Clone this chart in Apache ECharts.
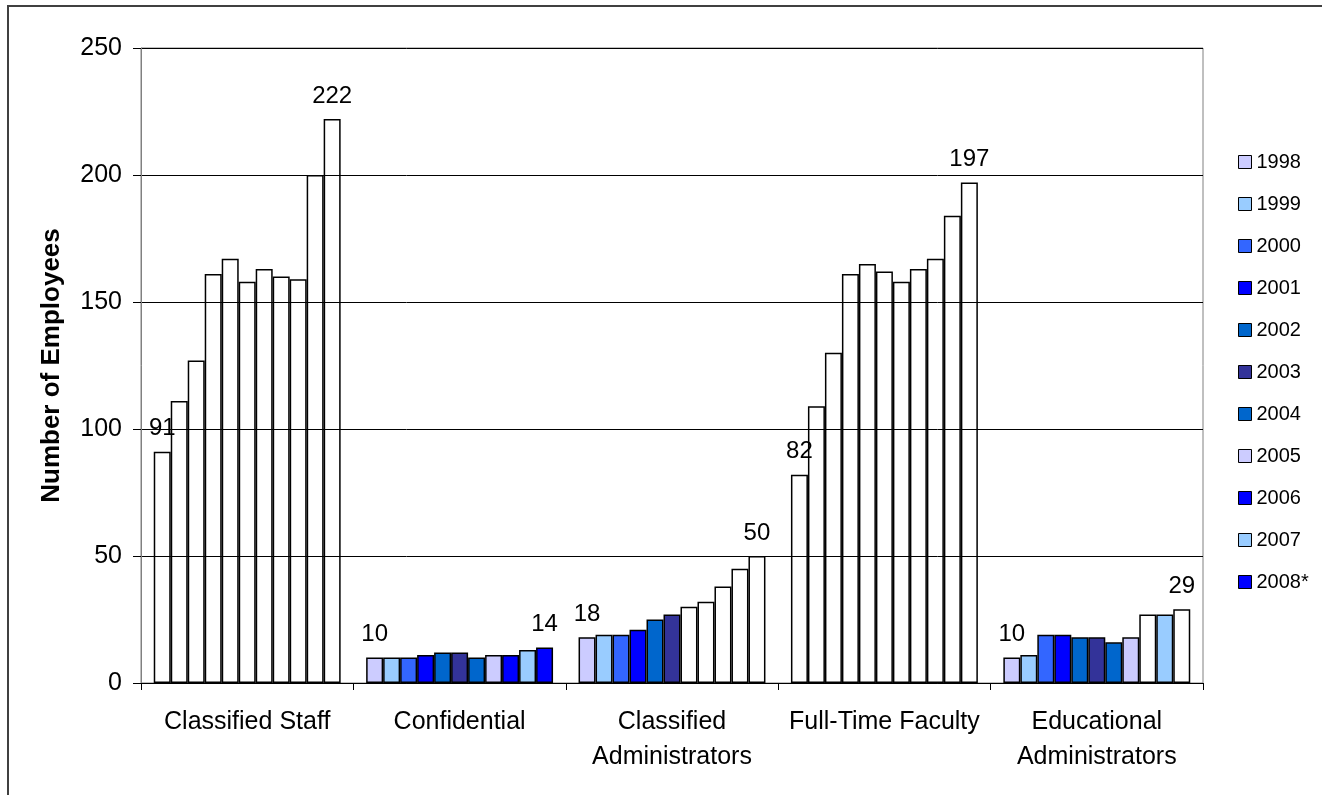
<!DOCTYPE html>
<html>
<head>
<meta charset="utf-8">
<script src="https://cdn.jsdelivr.net/npm/echarts@6/dist/echarts.min.js"></script>
<style>
html,body{margin:0;padding:0;background:#fff;}
#chart{width:1322px;height:795px;}
</style>
</head>
<body>
<div id="chart"></div>
<script>
const categories = ['Classified Staff', 'Confidential', 'Classified\nAdministrators', 'Full-Time Faculty', 'Educational\nAdministrators'];
const years = ['1998', '1999', '2000', '2001', '2002', '2003', '2004', '2005', '2006', '2007', '2008*'];
const yearColors = ['#CCCCFF', '#99CCFF', '#3366FF', '#0000FF', '#0066CC', '#333399', '#0066CC', '#CCCCFF', '#0000FF', '#99CCFF', '#0000FF'];
// values per category, one per year
const classifiedStaff = [91, 111, 127, 161, 167, 158, 163, 160, 159, 200, 222];
const confidential = [10, 10, 10, 11, 12, 12, 10, 11, 11, 13, 14];
const classifiedAdmin = [18, 19, 19, 21, 25, 27, 30, 32, 38, 45, 50];
const fullTimeFaculty = [82, 109, 130, 161, 165, 162, 158, 163, 167, 184, 197];
const educationalAdmin = [10, 11, 19, 19, 18, 18, 16, 18, 27, 27, 29];
// bars drawn without fill, per category: indices of years
const hollowBars = [
  [0,1,2,3,4,5,6,7,8,9,10],
  [],
  [6,7,8,9,10],
  [0,1,2,3,4,5,6,7,8,9,10],
  [8,10]
];
const yTicks = [0, 50, 100, 150, 200, 250];

const byCategory = [classifiedStaff, confidential, classifiedAdmin, fullTimeFaculty, educationalAdmin];
const FONT = '"Liberation Sans", Arial, sans-serif';

const series = years.map((yr, i) => ({
  name: yr,
  type: 'bar',
  barGap: '0%',
  barCategoryGap: '12%',
  itemStyle: { color: yearColors[i], borderColor: '#000', borderWidth: 1.5 },
  label: {
    show: i === 0 || i === years.length - 1,
    position: 'top',
    distance: 11,
    color: '#000',
    fontSize: 24,
    fontFamily: FONT
  },
  data: byCategory.map((vals, c) => {
    const item = { value: vals[i] };
    if (hollowBars[c].indexOf(i) >= 0) {
      item.itemStyle = { color: 'rgba(255,255,255,0)' };
    }
    return item;
  })
}));

const chart = echarts.init(document.getElementById('chart'), null, { renderer: 'canvas' });
chart.setOption({
  animation: false,
  backgroundColor: '#fff',
  textStyle: { fontFamily: FONT },
  graphic: [{
    type: 'rect',
    shape: { x: 8, y: 6, width: 1320, height: 800 },
    style: { fill: 'none', stroke: '#404040', lineWidth: 2 },
    silent: true,
    z: -1
  }],
  grid: {
    left: 141, right: 119, top: 48, bottom: 112,
    show: true, borderColor: '#808080', borderWidth: 1, backgroundColor: 'transparent'
  },
  legend: {
    orient: 'vertical',
    left: 1233,
    top: 147,
    itemWidth: 13,
    itemHeight: 13,
    itemGap: 22,
    icon: 'rect',
    itemStyle: { borderColor: '#000', borderWidth: 1 },
    textStyle: { fontSize: 20, color: '#000', fontFamily: FONT },
    data: years
  },
  xAxis: {
    type: 'category',
    data: categories,
    axisLine: { lineStyle: { color: '#000', width: 1 } },
    axisTick: { show: true, length: 7, lineStyle: { color: '#000' } },
    axisLabel: { fontSize: 25, color: '#000', margin: 22, lineHeight: 35, fontFamily: FONT, interval: 0 },
    splitLine: { show: false }
  },
  yAxis: {
    type: 'value',
    min: yTicks[0],
    max: yTicks[yTicks.length - 1],
    interval: 50,
    name: 'Number of Employees',
    nameLocation: 'middle',
    nameGap: 76,
    nameTextStyle: { fontSize: 26, fontWeight: 'bold', color: '#000', fontFamily: FONT },
    axisLine: { show: true, lineStyle: { color: '#808080', width: 1 } },
    axisTick: { show: true, length: 8, lineStyle: { color: '#000' } },
    axisLabel: { fontSize: 25, color: '#000', margin: 19, fontFamily: FONT },
    splitLine: { show: true, lineStyle: { color: '#000', width: 1 } }
  },
  series: series
});
</script>
</body>
</html>
